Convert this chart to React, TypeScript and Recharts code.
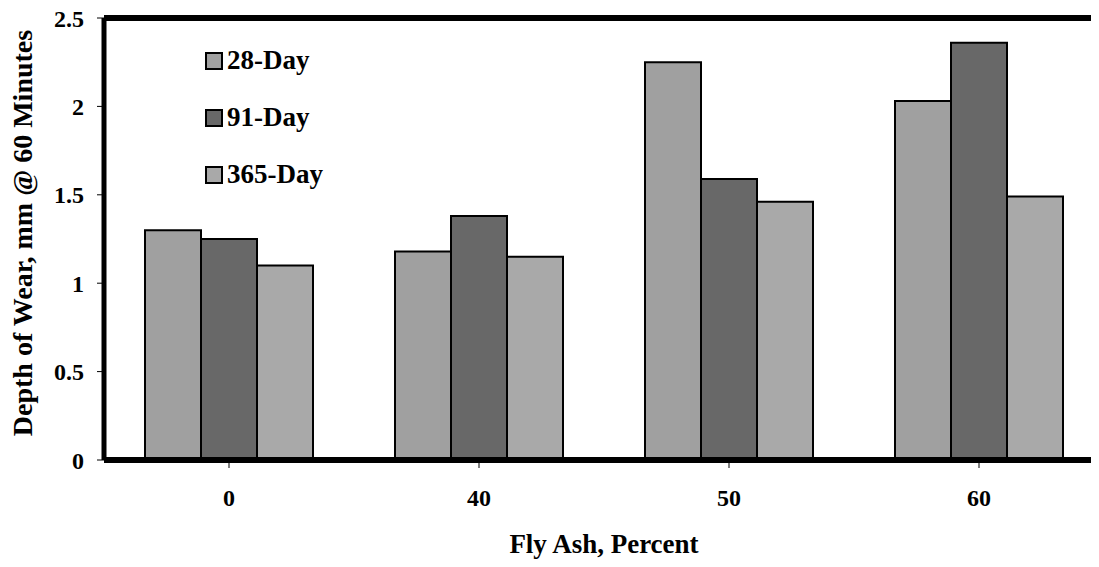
import { BarChart, Bar, XAxis, YAxis, ReferenceLine, Legend } from 'recharts';

const flyAsh = ['0', '40', '50', '60'];
const day28 = [1.3, 1.18, 2.25, 2.03];
const day91 = [1.25, 1.38, 1.59, 2.36];
const day365 = [1.1, 1.15, 1.46, 1.49];
const yTicks = [0, 0.5, 1, 1.5, 2, 2.5];

const seriesInfo = [
  { key: 'd28', name: '28-Day', color: '#a0a0a0' },
  { key: 'd91', name: '91-Day', color: '#686868' },
  { key: 'd365', name: '365-Day', color: '#a9a9a9' },
];

const data = flyAsh.map((f, i) => ({ f, d28: day28[i], d91: day91[i], d365: day365[i] }));

const font = '"Liberation Serif", "Times New Roman", serif';
const tickStyle = { fill: '#000', fontSize: 24, fontWeight: 700, fontFamily: font };
const titleStyle = { ...tickStyle, fontSize: 27 };

function LegendBox() {
  return (
    <div style={{ fontFamily: font, fontWeight: 700, fontSize: 27, color: '#000' }}>
      {seriesInfo.map((s) => (
        <div key={s.key} style={{ display: 'flex', alignItems: 'center', height: 57 }}>
          <svg width={18} height={18} style={{ marginRight: 4 }}>
            <rect x={1} y={1} width={16} height={16} fill={s.color} stroke="#000" strokeWidth={2} />
          </svg>
          <span>{s.name}</span>
        </div>
      ))}
    </div>
  );
}

export default function App() {
  return (
    <div style={{ margin: -8, width: 1099, height: 567, overflow: 'hidden', background: '#fff', position: 'relative' }}>
      <BarChart
        width={1112}
        height={567}
        data={data}
        margin={{ top: 18, right: 8, left: 0, bottom: 0 }}
        barGap={0}
        barCategoryGap={41}
      >
        <XAxis
          dataKey="f"
          height={107}
          tick={tickStyle}
          tickSize={8}
          tickMargin={21}
          axisLine={{ stroke: '#000', strokeWidth: 6 }}
          tickLine={{ stroke: '#000', strokeWidth: 1 }}
          label={{ value: 'Fly Ash, Percent', position: 'insideBottom', offset: 14, style: titleStyle }}
        />
        <YAxis
          width={104}
          domain={[0, 2.5]}
          ticks={yTicks}
          tick={tickStyle}
          tickSize={7}
          tickMargin={13}
          axisLine={{ stroke: '#000', strokeWidth: 5 }}
          tickLine={{ stroke: '#000', strokeWidth: 1 }}
          label={{
            value: 'Depth of Wear, mm @ 60 Minutes',
            angle: -90,
            position: 'center',
            dx: -30,
            dy: -6,
            style: { ...titleStyle, fontSize: 28, textAnchor: 'middle' },
          }}
        />
        <ReferenceLine y={2.5} stroke="#000" strokeWidth={6} />
        <Legend
          content={<LegendBox />}
          layout="vertical"
          align="center"
          verticalAlign="middle"
          wrapperStyle={{ position: 'absolute', left: 205, top: 32, width: 'auto' }}
        />
        {seriesInfo.map((s) => (
          <Bar
            key={s.key}
            dataKey={s.key}
            name={s.name}
            fill={s.color}
            stroke="#000"
            strokeWidth={2}
            isAnimationActive={false}
          />
        ))}
      </BarChart>
    </div>
  );
}
